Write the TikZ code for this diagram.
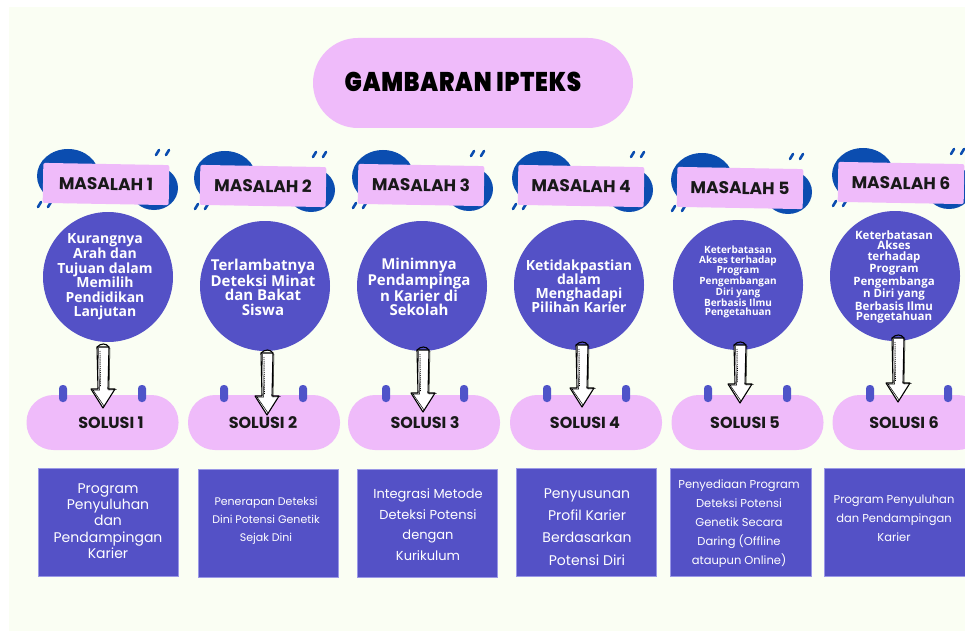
\documentclass[tikz,border=0pt]{standalone}
\usepackage{fontspec}
\setmainfont{Poppins}
\newfontfamily\titlefont{Poppins Black}[FakeStretch=0.85, LetterSpace=3]
\newfontfamily\headfont{Poppins}
\newfontfamily\circfont{Open Sans}
\newfontfamily\boxfont{Poppins}
\definecolor{bgcream}{HTML}{FAFEF3}
\definecolor{pinkc}{HTML}{EFBBFA}
\definecolor{blobc}{HTML}{0B4DB0}
\definecolor{purplec}{HTML}{5451C6}
\definecolor{tabc}{HTML}{4F54C9}
\definecolor{boxedge}{HTML}{9A98E6}
\tikzset{
  titlepill/.style={fill=pinkc, rounded corners=45pt, minimum width=320pt, minimum height=90pt, inner sep=0pt},
  titletext/.style={font=\titlefont\fontsize{27}{27}\selectfont, text=black},
  mlabel/.style={fill=pinkc, rounded corners=2pt, minimum width=126pt, minimum height=40pt, inner sep=0pt, rotate=-1,
     font=\headfont\bfseries\fontsize{17}{17}\selectfont, text=black!90},
  dashc/.style={draw=blobc, line width=2.6pt, line cap=round},
  circ/.style={circle, fill=purplec, minimum size=130pt, inner sep=0pt},
  circtext/.style={align=center, text=white, inner sep=0pt},
  pill/.style={fill=pinkc, rounded corners=27pt, minimum width=152pt, minimum height=55pt, inner sep=0pt},
  pilltext/.style={font=\headfont\bfseries\fontsize{16}{16}\selectfont, text=black!90},
  tab/.style={fill=tabc, rounded corners=3.5pt},
  box/.style={fill=purplec, draw=boxedge, line width=0.8pt, minimum width=140pt, minimum height=108pt, inner sep=0pt},
  boxtext/.style={align=center, text=white, inner sep=0pt},
  arrline/.style={draw=black, line width=1.1pt, line join=round},
}
\newcommand\masalahlabel[4]{%
  \fill[blobc] (#2-38,#3-8) ellipse [x radius=31, y radius=27];
  \fill[blobc] (#2+48,#3+4) ellipse [x radius=24, y radius=22];
  \draw[dashc] (#2+50,#3-29) -- (#2+53,#3-34) (#2+60,#3-29) -- (#2+63,#3-34);
  \draw[dashc] (#2-68,#3+23) -- (#2-65,#3+18) (#2-58,#3+23) -- (#2-55,#3+18);
  \node[mlabel] (#1) at (#2,#3) {#4};
}
\newcommand\sketcharrow[3]{%
  \draw[arrline, fill=white] (#1-6,#2) -- (#1-5,#3-19) -- (#1-12,#3-19) -- (#1,#3) -- (#1+12,#3-19) -- (#1+5,#3-19) -- (#1+6,#2) -- cycle;
  \draw[line width=0.5pt] (#1-4.5,#2+1) -- (#1-3.5,#3-18) -- (#1-10,#3-18) -- (#1+1,#3-2);
  \draw[line width=0.5pt] (#1+7,#2+1) -- (#1+6,#3-18) -- (#1+13.5,#3-18.5);
  \draw[densely dotted, line width=0.9pt] (#1-3,#2+4) -- (#1-2.5,#3-21);
  \draw[arrline] (#1-6,#2) .. controls (#1-2,#2-4) and (#1+3,#2-4) .. (#1+6,#2);
}
\newcommand\tabs[1]{%
  \fill[tab] (#1-4,385) rectangle (#1+4,402);
}
\begin{document}
\begin{tikzpicture}[x=1pt,y=-1pt]
\useasboundingbox (0,0) rectangle (965,631);
\fill[white] (0,0) rectangle (965,631);
\fill[bgcream] (9,7) rectangle (965,631);
\begin{scope}
\clip (0,0) rectangle (965,631);
% title
\node[titlepill] (title) at (473,83) {};
\node[titletext] (titlet) at (463,82) {GAMBARAN IPTEKS};
% masalah labels
\masalahlabel{m1}{106}{184}{MASALAH 1}
\masalahlabel{m2}{263}{186}{MASALAH 2}
\masalahlabel{m3}{421}{185}{MASALAH 3}
\masalahlabel{m4}{581}{186}{MASALAH 4}
\masalahlabel{m5}{740}{188}{MASALAH 5}
\masalahlabel{m6}{901}{183}{MASALAH 6}
% circles
\node[circ] (c1) at (108,277) {};
\node[circ] (c2) at (265,286) {};
\node[circ] (c3) at (422,286) {};
\node[circ] (c4) at (579,285) {};
\node[circ] (c5) at (738,285) {};
\node[circ] (c6) at (895,276) {};
\node[circtext, font=\circfont\bfseries\fontsize{14}{14.6}\selectfont] (ct1) at (105,277) {Kurangnya\\Arah dan\\Tujuan dalam\\Memilih\\Pendidikan\\Lanjutan};
\node[circtext, font=\circfont\bfseries\fontsize{15}{14.5}\selectfont] (ct2) at (263,287) {Terlambatnya\\Deteksi Minat\\dan Bakat\\Siswa};
\node[circtext, font=\circfont\bfseries\fontsize{15}{14.5}\selectfont] (ct3) at (419,287) {Minimnya\\Pendampinga\\n Karier di\\Sekolah};
\node[circtext, font=\circfont\bfseries\fontsize{14}{14}\selectfont] (ct4) at (579,286) {Ketidakpastian\\dalam\\Menghadapi\\Pilihan Karier};
\node[circtext, font=\circfont\bfseries\fontsize{10}{9.8}\selectfont] (ct5) at (738,282) {Keterbatasan\\Akses terhadap\\Program\\Pengembangan\\Diri yang\\Berbasis Ilmu\\Pengetahuan};
\node[circtext, font=\circfont\bfseries\fontsize{11.5}{10.7}\selectfont] (ct6) at (894,277) {Keterbatasan\\Akses\\terhadap\\Program\\Pengembanga\\n Diri yang\\Berbasis Ilmu\\Pengetahuan};
% solution pills
\node[pill] (s1) at (102.5,422.5) {};
\node[pill] (s2) at (264,422.5) {};
\node[pill] (s3) at (424,422.5) {};
\node[pill] (s4) at (586,422.5) {};
\node[pill] (s5) at (747.5,422.5) {};
\node[pill] (s6) at (908.5,422.5) {};
\tabs{63}\tabs{142}\tabs{224}\tabs{303}\tabs{386}\tabs{464}
\tabs{547}\tabs{626}\tabs{708}\tabs{787}\tabs{870}\tabs{948}
\node[pilltext] (st1) at (111,423) {SOLUSI 1};
\node[pilltext] (st2) at (263,423) {SOLUSI 2};
\node[pilltext] (st3) at (425,423) {SOLUSI 3};
\node[pilltext] (st4) at (585,423) {SOLUSI 4};
\node[pilltext] (st5) at (745,423) {SOLUSI 5};
\node[pilltext] (st6) at (904,423) {SOLUSI 6};
% arrows
\sketcharrow{103}{347}{408}
\sketcharrow{267}{353}{415}
\sketcharrow{423}{350}{412}
\sketcharrow{582}{345}{407}
\sketcharrow{740}{345}{403}
\sketcharrow{898}{338}{402}
% boxes
\node[box] (b1) at (108,522) {};
\node[box] (b2) at (268,523.5) {};
\node[box] (b3) at (427,523.5) {};
\node[box] (b4) at (586,522) {};
\node[box, minimum width=141pt] (b5) at (740.5,522) {};
\node[box, minimum width=141pt] (b6) at (894.5,522) {};
\node[boxtext, font=\boxfont\fontsize{14}{16.2}\selectfont] (bt1) at (108,521) {Program\\Penyuluhan\\dan\\Pendampingan\\Karier};
\node[boxtext, font=\boxfont\fontsize{11}{18}\selectfont] (bt2) at (266,520.5) {Penerapan Deteksi\\Dini Potensi Genetik\\Sejak Dini};
\node[boxtext, font=\boxfont\fontsize{13}{20.7}\selectfont] (bt3) at (428,524.5) {Integrasi Metode\\Deteksi Potensi\\dengan\\Kurikulum};
\node[boxtext, font=\boxfont\fontsize{14}{22.3}\selectfont] (bt4) at (587,527) {Penyusunan\\Profil Karier\\Berdasarkan\\Potensi Diri};
\node[boxtext, font=\boxfont\fontsize{11.5}{19}\selectfont] (bt5) at (739,523.5) {Penyediaan Program\\Deteksi Potensi\\Genetik Secara\\Daring (Offline\\ataupun Online)};
\node[boxtext, font=\boxfont\fontsize{11.5}{19}\selectfont] (bt6) at (894,518.5) {Program Penyuluhan\\dan Pendampingan\\Karier};
\end{scope}
\end{tikzpicture}
\end{document}
